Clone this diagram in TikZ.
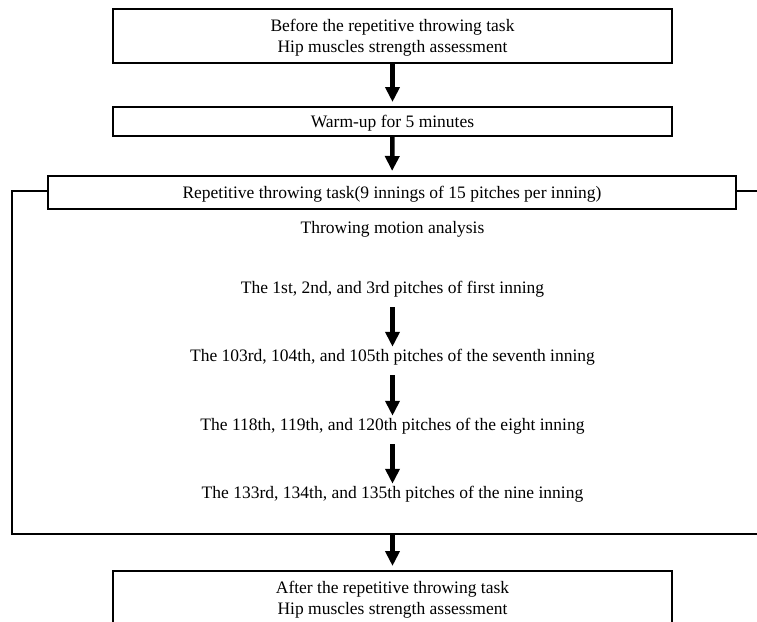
\documentclass[tikz,border=0pt]{standalone}
\usepackage{fontspec}
\setmainfont{Liberation Serif}
\usepackage{tikz}
\usetikzlibrary{arrows.meta,positioning}

\begin{document}
\begin{tikzpicture}[
    x=1pt, y=-1pt,
    font=\fontsize{17.5}{21}\selectfont,
    stagebox/.style={rectangle, draw, line width=2pt, minimum width=559pt, align=center, inner sep=0pt, text depth=0pt},
    item/.style={inner sep=0pt, align=center},
    frame/.style={line width=2pt},
    arrow/.style={-{Triangle[width=14pt,length=15pt]}, line width=4.5pt, shorten >=4pt},
    steparrow/.style={arrow, shorten <=10pt, shorten >=2pt}
]
\useasboundingbox (0,0) rectangle (757,621);

% Main boxes
\node[stagebox, minimum height=54pt] (before) at (392.5,36) {Before the repetitive throwing task\\Hip muscles strength assessment};
\node[stagebox, minimum height=29pt] (warm) at (392.5,121.5) {Warm-up for 5 minutes};
\node[stagebox, minimum width=688pt, minimum height=33pt] (rep) at (392,192.5) {Repetitive throwing task(9 innings of 15 pitches per inning)};
\node[stagebox, minimum height=54pt] (after) at (392.5,598) {After the repetitive throwing task\\Hip muscles strength assessment};

% Inside the throwing task
\node[item] (motion) at (392.5,229) {Throwing motion analysis};
\node[item] (first) at (392.5,289) {The 1st, 2nd, and 3rd pitches of first inning};
\node[item] (seventh) at (392.5,357) {The 103rd, 104th, and 105th pitches of the seventh inning};
\node[item] (eighth) at (392.5,426) {The 118th, 119th, and 120th pitches of the eight inning};
\node[item] (ninth) at (392.5,494) {The 133rd, 134th, and 135th pitches of the nine inning};

% Bracket round the task
\coordinate (brTL) at (12,191);
\coordinate (brBL) at (12,534);
\coordinate (brBR) at (757,534);
\coordinate (brR) at (757,191);
\coordinate (brM) at (392.5,534);
\draw[frame] (rep.west |- brTL) -- (brTL) -- (brBL) -- (brBR);
\draw[frame] (rep.east |- brR) -- (brR);

% Arrows
\draw[arrow] (before) -- (warm);
\draw[arrow] (warm) -- (rep);
\draw[steparrow] (first) -- (seventh);
\draw[steparrow] (seventh) -- (eighth);
\draw[steparrow] (eighth) -- (ninth);
\draw[arrow] (brM) -- (after);

\end{tikzpicture}
\end{document}
